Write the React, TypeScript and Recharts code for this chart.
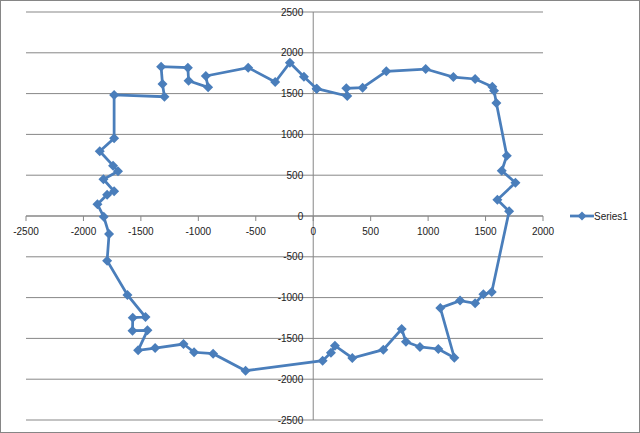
import { ScatterChart, Scatter, XAxis, YAxis, CartesianGrid, ReferenceLine } from 'recharts';

// path points, in drawing order (closed loop)
const xValues = [
  30, -81, -203, -331, -566, -935, -915, -1085, -1091, -1324, -1312, -1295, -1733,
  -1733, -1858, -1742, -1699, -1826, -1733, -1794, -1878, -1823, -1777, -1794,
  -1617, -1460, -1571, -1573, -1443, -1524, -1376, -1129, -1037, -871, -589,
  82, 154, 189, 340, 610, 770, 807, 929, 1089, 1228, 1106, 1278, 1409, 1481, 1554,
  1705, 1603, 1760, 1641, 1685, 1594, 1574, 1559, 1409, 1220, 979, 636, 430, 288, 296, 30,
];
const yValues = [
  1560, 1707, 1879, 1642, 1818, 1716, 1577, 1658, 1818, 1830, 1618, 1462, 1483,
  952, 793, 617, 548, 450, 302, 261, 143, -10, -221, -547,
  -968, -1238, -1246, -1405, -1401, -1646, -1618, -1569, -1670, -1687, -1896,
  -1773, -1675, -1589, -1740, -1638, -1385, -1540, -1605, -1630, -1736, -1127, -1037, -1070, -960, -931,
  57, 200, 408, 555, 739, 1385, 1536, 1585, 1679, 1703, 1801, 1773, 1573, 1565, 1471, 1560,
];
const xTicks = [-2500, -2000, -1500, -1000, -500, 0, 500, 1000, 1500, 2000];
const yTicks = [-2500, -2000, -1500, -1000, -500, 0, 500, 1000, 1500, 2000, 2500];
const seriesName = 'Series1';

const data = xValues.map((x, i) => ({ x, y: yValues[i] }));

const W = 640;
const H = 433;
const PLOT = { top: 12, right: 97, bottom: 13, left: 26 };
const PLOT_W = W - PLOT.left - PLOT.right;
const PLOT_H = H - PLOT.top - PLOT.bottom;
const X_MIN = xTicks[0];
const X_MAX = xTicks[xTicks.length - 1];
const Y_MIN = yTicks[0];
const Y_MAX = yTicks[yTicks.length - 1];
// axes cross at zero, like Excel
const ZERO_X = PLOT.left + (PLOT_W * (0 - X_MIN)) / (X_MAX - X_MIN);
const ZERO_Y = PLOT.top + (PLOT_H * Y_MAX) / (Y_MAX - Y_MIN);

const BLUE = '#4A7EBB';
const GRID = '#878787';
const FONT = '"Liberation Sans", Arial, sans-serif';

function XTick({ x, payload }: any) {
  return (
    <g>
      <line x1={x} x2={x} y1={ZERO_Y} y2={ZERO_Y + 5} stroke={GRID} />
      <text x={x} y={ZERO_Y + 18.5} textAnchor="middle" fontSize={10} fontFamily={FONT} fill="#222">
        {payload.value}
      </text>
    </g>
  );
}

function YTick({ y, payload }: any) {
  return (
    <text x={ZERO_X - 10} y={y + 3.5} textAnchor="end" fontSize={10} fontFamily={FONT} fill="#222">
      {payload.value}
    </text>
  );
}

function Diamond({ cx, cy }: any) {
  const r = 5;
  return (
    <polygon
      points={`${cx},${cy - r} ${cx + r},${cy} ${cx},${cy + r} ${cx - r},${cy}`}
      fill={BLUE}
    />
  );
}

export default function App() {
  return (
    <div style={{ position: 'relative', width: W, height: H, background: '#fff' }}>
      <style>{'body{margin:0}'}</style>
      <ScatterChart
        width={W}
        height={H}
        margin={{ top: PLOT.top, right: PLOT.right, bottom: 0, left: 0 }}
      >
        <CartesianGrid vertical={false} stroke={GRID} />
        <XAxis
          type="number"
          dataKey="x"
          domain={[X_MIN, X_MAX]}
          ticks={xTicks}
          height={PLOT.bottom}
          axisLine={false}
          tickLine={false}
          tick={XTick}
          interval={0}
        />
        <YAxis
          type="number"
          dataKey="y"
          domain={[Y_MIN, Y_MAX]}
          ticks={yTicks}
          width={PLOT.left}
          axisLine={false}
          tickLine={false}
          tick={YTick}
          interval={0}
        />
        <ReferenceLine y={0} stroke={GRID} />
        <ReferenceLine x={0} stroke={GRID} />
        <Scatter
          data={data}
          line={{ stroke: BLUE, strokeWidth: 2.75 }}
          shape={<Diamond />}
          isAnimationActive={false}
        />
      </ScatterChart>
      <div
        style={{
          position: 'absolute',
          left: 570,
          top: 209,
          display: 'flex',
          alignItems: 'center',
          fontFamily: FONT,
          fontSize: 10,
          color: '#222',
        }}
      >
        <svg width={24} height={14}>
          <line x1={0} x2={24} y1={7} y2={7} stroke={BLUE} strokeWidth={2.75} />
          <polygon points="12,2.5 16.5,7 12,11.5 7.5,7" fill={BLUE} />
        </svg>
        <span>{seriesName}</span>
      </div>
      <div
        style={{
          position: 'absolute',
          inset: 0,
          border: '1px solid #868686',
          pointerEvents: 'none',
        }}
      />
    </div>
  );
}
